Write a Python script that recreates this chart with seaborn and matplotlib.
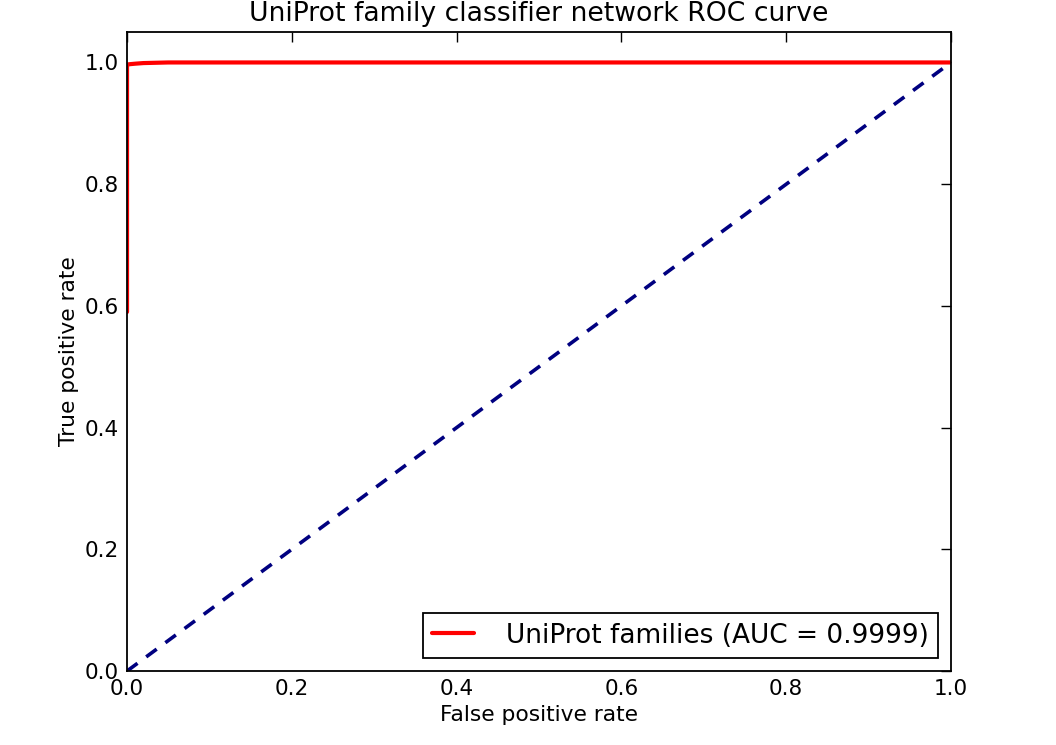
import matplotlib
matplotlib.use('Agg')
import matplotlib.pyplot as plt
import numpy as np
import pandas as pd
import seaborn as sns

# pontos da curva ROC
fpr = [0.0, 0.0, 0.002, 0.01, 0.02, 0.035, 0.05, 0.5, 1.0]
tpr = [0.59, 0.996, 0.997, 0.998, 0.999, 0.9995, 1.0, 1.0, 1.0]
chance = [0.0, 1.0]
auc = 0.9999
label = 'UniProt families (AUC = %0.4f)' % auc

sns.set_style('white')
plt.rcParams['font.family'] = ['DejaVu Sans']
plt.rcParams['text.color'] = 'black'
plt.rcParams['axes.labelcolor'] = 'black'
plt.rcParams['xtick.color'] = 'black'
plt.rcParams['ytick.color'] = 'black'
plt.rcParams['xtick.direction'] = 'in'
plt.rcParams['ytick.direction'] = 'in'
plt.rcParams['xtick.top'] = True
plt.rcParams['ytick.right'] = True

df_roc = pd.DataFrame({'fpr': fpr, 'tpr': tpr})
df_chance = pd.DataFrame({'x': chance, 'y': chance})

fig = plt.figure(figsize=(10.56, 7.45), dpi=100)
ax = fig.add_axes([0.1203, 0.0993, 0.7803, 0.8577])

sns.lineplot(data=df_roc, x='fpr', y='tpr', color='red', lw=3, label=label,
             estimator=None, sort=False, ax=ax)
sns.lineplot(data=df_chance, x='x', y='y', color='#000080', lw=2.6,
             linestyle=(0, (3.6, 3.0)), estimator=None, sort=False, ax=ax)

ax.set_xlim(0.0, 1.0)
ax.set_ylim(0.0, 1.05)
ax.set_xticks(np.arange(0, 1.01, 0.2))
ax.set_yticks(np.arange(0, 1.01, 0.2))
ax.tick_params(axis='both', labelsize=15.5, length=7, width=1, color='black', pad=6)
for sp in ax.spines.values():
    sp.set_linewidth(1.3)
    sp.set_color('black')

ax.set_xlabel('False positive rate', fontsize=15.7)
ax.set_ylabel('True positive rate', fontsize=15.7)
ax.set_title('UniProt family classifier network ROC curve', fontsize=19.2, pad=8)

leg = ax.legend(loc='lower right', fontsize=19, fancybox=False, framealpha=1,
                edgecolor='black', borderaxespad=0.5, handlelength=1.6,
                handletextpad=1.2, borderpad=0.35)
leg.get_frame().set_linewidth(1.3)
for t in leg.get_texts():
    t.set_color('black')

fig.savefig('out.png', dpi=100)
